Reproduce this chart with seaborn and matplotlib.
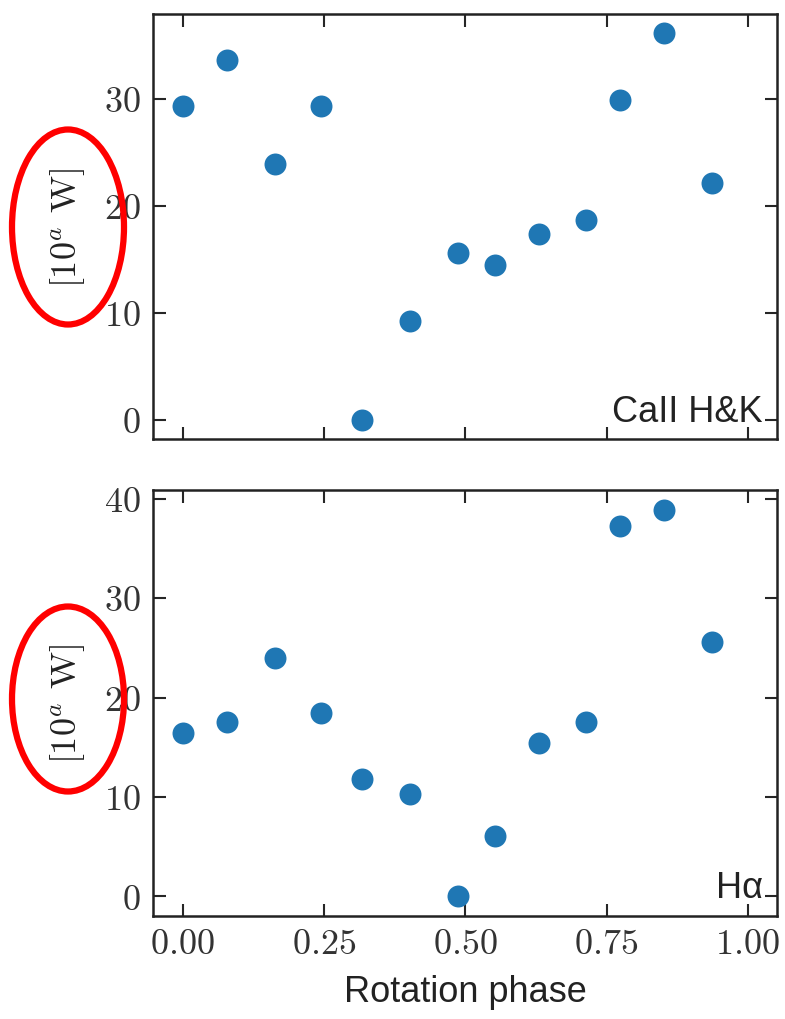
import numpy as np
import pandas as pd
from matplotlib import pyplot as plt
from matplotlib.patches import Ellipse
from matplotlib.ticker import MultipleLocator
import seaborn as sns

phase = [0.0, 0.079, 0.163, 0.244, 0.318, 0.402, 0.487, 0.553, 0.630, 0.714, 0.773, 0.851, 0.936]
caii_hk = [29.3, 33.6, 23.9, 29.3, 0.0, 9.2, 15.6, 14.5, 17.4, 18.7, 29.9, 36.1, 22.1]
h_alpha = [16.4, 17.5, 24.0, 18.4, 11.8, 10.3, 0.0, 6.1, 15.4, 17.5, 37.3, 38.9, 25.6]
panel_names = ['CaII H&K', 'Hα']
ylabel = r'[10$^{a}$ W]'
xlabel = 'Rotation phase'

sns.set_style('ticks')
plt.rcParams['font.family'] = ['cmr10', 'DejaVu Serif']
plt.rcParams['mathtext.fontset'] = 'cm'
plt.rcParams['axes.formatter.use_mathtext'] = True
plt.rcParams['font.size'] = 26

df = pd.DataFrame({'phase': phase, 'caii': caii_hk, 'halpha': h_alpha})

fig, axes = plt.subplots(2, 1, figsize=(7.85, 10.2), dpi=100, sharex=True)
fig.subplots_adjust(left=0.1953, right=0.9894, top=0.9853, bottom=0.1013, hspace=0.12)

sans = 'Liberation Sans'
for ax, col, name in zip(axes, ['caii', 'halpha'], panel_names):
    sns.scatterplot(data=df, x='phase', y=col, ax=ax, s=250, color='#1f77b4',
                    linewidth=0, legend=False)
    ax.set_xlim(-0.052, 1.051)
    ax.xaxis.set_major_locator(MultipleLocator(0.25))
    ax.yaxis.set_major_locator(MultipleLocator(10))
    ax.tick_params(direction='in', top=True, right=True, length=9, width=1.5,
                   labelsize=26, pad=9, labelcolor='#333333')
    for sp in ax.spines.values():
        sp.set_linewidth(1.8)
        sp.set_color('#222222')
    ax.set_ylabel(ylabel, fontsize=26, labelpad=12, color='#222222')
    ax.set_xlabel('')
    ax.text(0.978, 0.025, name, transform=ax.transAxes, ha='right', va='bottom',
            fontsize=26, family=sans, color='#222222')

axes[1].set_xlabel(xlabel, fontsize=26, family=sans, labelpad=10, color='#222222')

# red annotation ellipses around the y labels
for cy, h in [(228, 195), (700, 185)]:
    e = Ellipse((68 / 785, 1 - cy / 1020), 112 / 785, h / 1020, transform=fig.transFigure,
                fill=False, edgecolor='red', linewidth=4.5)
    fig.patches.append(e)

plt.savefig('out.png', dpi=100)
